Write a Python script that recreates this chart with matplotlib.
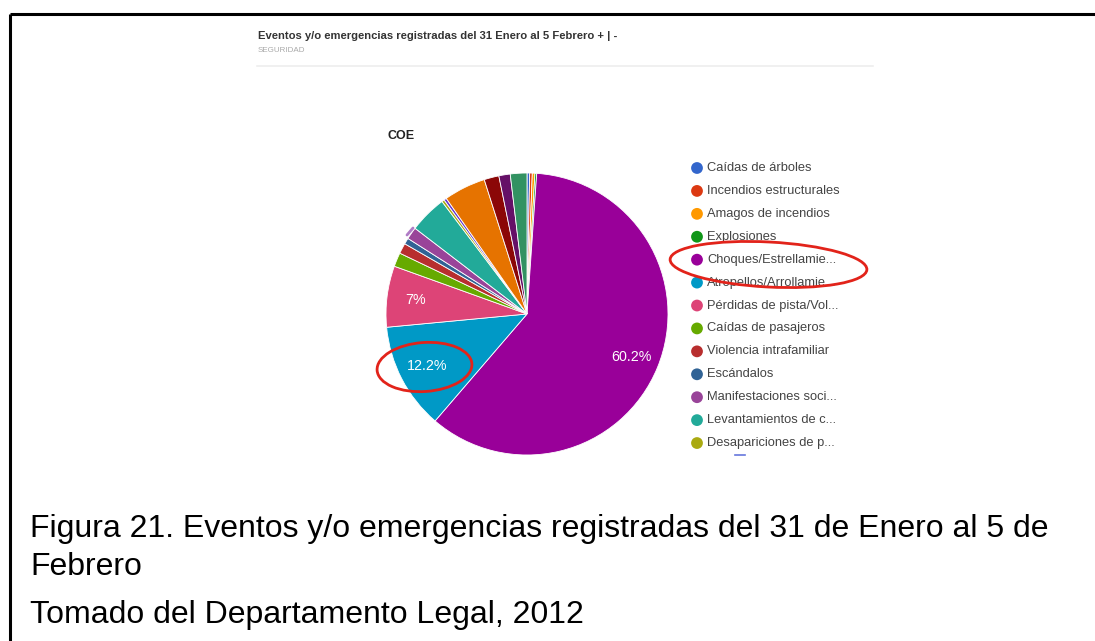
import matplotlib
matplotlib.use("Agg")
import matplotlib.pyplot as plt
from matplotlib.patches import Ellipse

plt.rcParams['font.family'] = ['Liberation Sans', 'DejaVu Sans']

# slice data (percent), clockwise from 12 o'clock, Google Charts order
categories = [
    "Caídas de árboles", "Incendios estructurales", "Amagos de incendios",
    "Explosiones", "Choques/Estrellamie...", "Atropellos/Arrollamie...",
    "Pérdidas de pista/Vol...", "Caídas de pasajeros", "Violencia intrafamiliar",
    "Escándalos", "Manifestaciones soci...", "Levantamientos de c...",
    "Desapariciones de p...", "Otro 14", "Otro 15", "Otro 16", "Otro 17", "Otro 18",
]
values = [0.3, 0.3, 0.3, 0.2, 60.2, 12.2, 7.0, 1.6, 1.2, 0.7, 1.4, 4.3,
          0.3, 0.3, 4.8, 1.7, 1.3, 1.9]
colors = ["#3366cc", "#dc3912", "#ff9900", "#109618", "#990099", "#0099c6",
          "#dd4477", "#66aa00", "#b82e2e", "#316395", "#994499", "#22aa99",
          "#aaaa11", "#6633cc", "#e67300", "#8b0707", "#651067", "#329262"]
n_legend = 13   # only the first page of the legend is visible

W, H = 1095, 641
fig = plt.figure(figsize=(W / 100, H / 100), dpi=100)
fig.patch.set_facecolor("white")

def px_axes(x0, y0, x1, y1):
    # axes from pixel box (top-left origin)
    return fig.add_axes([x0 / W, 1 - y1 / H, (x1 - x0) / W, (y1 - y0) / H])

# pie, clipped at the bottom like the screenshot
cx, cy, R = 527, 314, 141
x0, y0, x1, y1 = 375, 160, 685, 454
ax = px_axes(x0, y0, x1, y1)

def fmt(p):
    if p < 5:
        return ""
    return "%g%%" % round(p, 1)

wedges, texts, autotexts = ax.pie(
    values, colors=colors, startangle=90, counterclock=False,
    autopct=fmt, pctdistance=0.8,
    wedgeprops=dict(edgecolor="white", linewidth=0.6),
    textprops=dict(color="white", fontsize=10.3))
ax.set_xlim((x0 - cx) / R, (x1 - cx) / R)
ax.set_ylim((cy - y1) / R, (cy - y0) / R)
ax.set_aspect("auto")
ax.axis("off")

# legend, drawn row by row
lg = px_axes(690, 160, 900, 450)
step = 22.92
ymin = -(168 - 160) / step
lg.set_ylim(ymin + 290 / step, ymin)
lg.set_xlim(0, 210)
lg.axis("off")
for i in range(n_legend):
    lg.scatter([7], [i], s=72, color=colors[i], edgecolors="none")
    lg.text(17, i, categories[i], fontsize=9.3, color="#444444", va="center")

# overlay in pixel coords for the page elements
ov = fig.add_axes([0, 0, 1, 1], zorder=5)
ov.set_xlim(0, W)
ov.set_ylim(H, 0)
ov.axis("off")
ov.patch.set_alpha(0)

ov.plot([9.5, W], [13.5, 13.5], color="black", lw=2.2, solid_capstyle="butt")
ov.plot([9.5, 9.5], [13.5, H], color="black", lw=2.2, solid_capstyle="butt")

ov.text(258, 39, "Eventos y/o emergencias registradas del 31 Enero al 5 Febrero + | -",
        fontsize=8.1, fontweight="bold", color="#333333")
ov.text(258, 51.5, "SEGURIDAD", fontsize=5.8, color="#aaaaaa")
ov.plot([257, 873], [65.5, 65.5], color="#eeeeee", lw=1.2)
ov.text(387, 139, "COE", fontsize=9, fontweight="bold", color="#222222")
ov.plot([735, 745], [455, 455], color="#6677dd", lw=1.2)
# small label tick left of the pie
ov.plot([407, 413], [235, 228], color="#b07cc6", lw=2, solid_capstyle="round")

# red marks
ov.add_patch(Ellipse((424.5, 367), 95, 49, angle=-4, fill=False,
                     edgecolor="#e2231a", lw=2))
ov.add_patch(Ellipse((768.5, 264.5), 197, 45, angle=3, fill=False,
                     edgecolor="#e2231a", lw=2))

# caption
cap = dict(fontsize=23, color="black")
ov.text(30, 537, "Figura 21. Eventos y/o emergencias registradas del 31 de Enero al 5 de", **cap)
ov.text(30, 575, "Febrero", **cap)
ov.text(30, 623, "Tomado del Departamento Legal, 2012", **cap)

fig.savefig("out.png", dpi=100)
